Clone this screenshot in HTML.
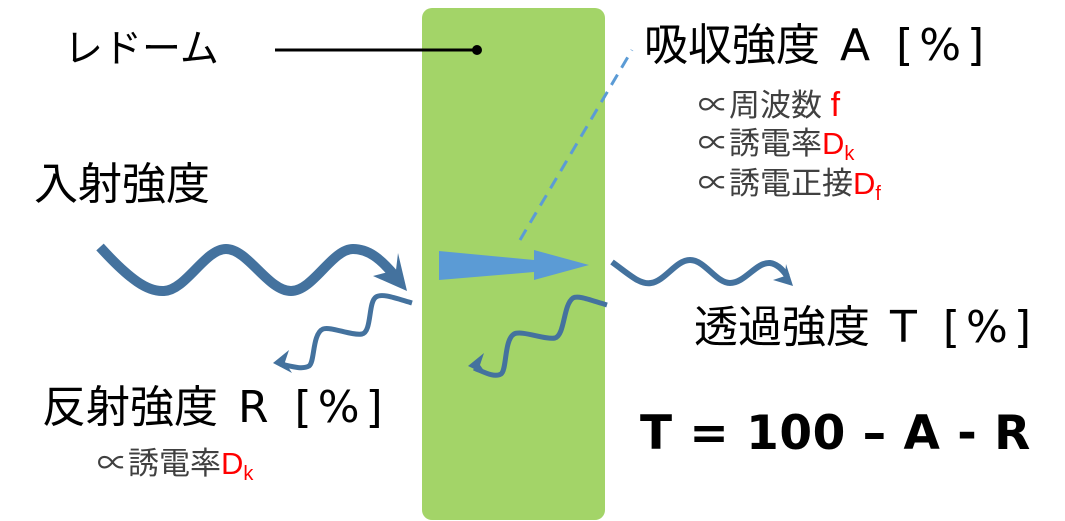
<!DOCTYPE html>
<html><head><meta charset="utf-8"><style>
body{margin:0;width:1065px;height:521px;background:#fff;position:relative;overflow:hidden;font-family:"Liberation Sans","Noto Sans CJK JP",sans-serif;}
.t{position:absolute;white-space:nowrap;line-height:1;color:#000;}
.s{position:absolute;white-space:nowrap;line-height:1;color:#404040;font-size:31px;}
.r{color:#f00;}
.l{font-family:"DejaVu Sans",sans-serif;}
sub{font-size:20px;vertical-align:-6px;}
</style></head><body>
<svg width="1065" height="521" style="position:absolute;left:0;top:0">
<rect x="422" y="8" width="183" height="512" rx="10" fill="#a3d468"/>
<line x1="275" y1="50" x2="476" y2="50" stroke="#000" stroke-width="3"/>
<circle cx="477" cy="50" r="5" fill="#000"/>
<line x1="520" y1="240" x2="632" y2="50" stroke="#5b9bd5" stroke-width="3" stroke-dasharray="12,8"/>
<polygon points="439,251 534,260 534,250 589,265 534,280 534,272 439,280" fill="#5b9bd5"/>
<g fill="none" stroke="#44729e" stroke-linecap="butt">
<path d="M100,247 C130,280 148,292 164,291 C186,290 205,249 226,249 C248,249 268,291 291,291 C313,291 332,249 353,249 C368,249 380,258 395,276" stroke-width="10"/>
<path d="M412,303 C395,298 382,293 376,297 C368,302 372,332 362,334 C352,336 330,326 323,329 C312,334 315,362 309,366 C302,370 290,366 280,364" stroke-width="5"/>
<path d="M607,305 C590,300 578,295 573,298 C563,305 565,335 555,338 C545,340 522,330 514,334 C504,340 507,370 501,374 C494,378 484,372 474,368" stroke-width="5"/>
<path d="M612,262 C630,275 640,285 651,283 C665,281 676,260 690,260 C705,260 716,283 730,283 C745,283 756,262 770,263 C777,264 783,270 787,276" stroke-width="6"/>
</g>
<polygon points="407,291 398,253 396,270 373,276" fill="#44729e"/>
<polygon points="273,363 289,350 285,362 292,373" fill="#44729e"/>
<polygon points="468,366 484,353 480,365 487,375" fill="#44729e"/>
<polygon points="793,286 786,264 785,276 773,280" fill="#44729e"/>
</svg>
<div class="t" style="left:64px;top:30px;font-size:39px">レドーム</div>
<div class="t" style="left:644px;top:24px;font-size:44px">吸収強度<span class="l" style="letter-spacing:6px"> A [%]</span></div>
<div class="s" style="left:698px;top:88px">∝周波数 <span class="r" style="font-size:34px">f</span></div>
<div class="s" style="left:698px;top:128px">∝誘電率<span class="r">D<sub>k</sub></span></div>
<div class="s" style="left:698px;top:168px">∝誘電正接<span class="r">D<sub>f</sub></span></div>
<div class="t" style="left:34px;top:163px;font-size:44px">入射強度</div>
<div class="t" style="left:694px;top:306px;font-size:44px">透過強度<span class="l" style="letter-spacing:6px"> T [%]</span></div>
<div class="t" style="left:42px;top:386px;font-size:44px">反射強度<span class="l" style="letter-spacing:6px"> R [%]</span></div>
<div class="s" style="left:97px;top:448px">∝誘電率<span class="r">D<sub>k</sub></span></div>
<div class="t l" style="left:640px;top:410px;font-size:47px;font-weight:bold;letter-spacing:0.5px">T = 100 – A - R</div>
</body></html>
